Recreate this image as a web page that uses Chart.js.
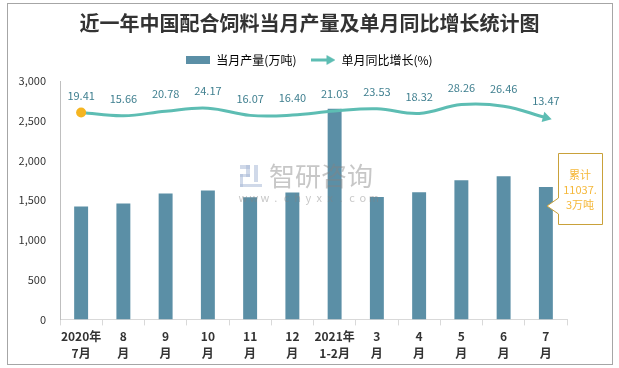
<!doctype html>
<html lang="zh">
<head>
<meta charset="UTF-8">
<title>近一年中国配合饲料当月产量及单月同比增长统计图</title>
<style>
  html, body { margin: 0; padding: 0; background: #fff; }
  #wrap { width: 619px; height: 368px; }
</style>
</head>
<body>
<div id="wrap"><canvas id="chart" width="619" height="368"></canvas></div>
<script src="https://cdn.jsdelivr.net/npm/chart.js@4/dist/chart.umd.min.js"></script>
<script>
// data
const months = [
  ['2020年', '7月'], ['8', '月'], ['9', '月'], ['10', '月'], ['11', '月'], ['12', '月'],
  ['2021年', '1-2月'], ['3', '月'], ['4', '月'], ['5', '月'], ['6', '月'], ['7', '月']
];
const output = [1420, 1458, 1585, 1622, 1538, 1598, 2650, 1540, 1600, 1752, 1800, 1665];
const growth = [19.41, 15.66, 20.78, 24.17, 16.07, 16.40, 21.03, 23.53, 18.32, 28.26, 26.46, 13.47];
const totalNote = ['累计', '11037.', '3万吨'];

const barColor = '#5b8fa6';
const lineColor = '#5dbdb3';
const font = '"Noto Sans CJK SC", "Microsoft YaHei", sans-serif';

function legendRect() {
  const c = document.createElement('canvas');
  c.width = 24; c.height = 8;
  const g = c.getContext('2d');
  g.fillStyle = barColor;
  g.fillRect(0, 0, 24, 8);
  return c;
}
function legendArrow() {
  const c = document.createElement('canvas');
  c.width = 24; c.height = 10;
  const g = c.getContext('2d');
  g.strokeStyle = lineColor; g.lineWidth = 3;
  g.beginPath(); g.moveTo(0, 5); g.lineTo(17, 5); g.stroke();
  g.fillStyle = lineColor;
  g.beginPath(); g.moveTo(24, 5); g.lineTo(15, 0); g.lineTo(15, 10); g.closePath(); g.fill();
  return c;
}

const decor = {
  id: 'decor',
  beforeDraw(chart) {
    const ctx = chart.ctx;
    ctx.save();
    ctx.fillStyle = '#fff';
    ctx.fillRect(0, 0, chart.width, chart.height);
    ctx.strokeStyle = '#a6a6a6';
    ctx.lineWidth = 1;
    ctx.strokeRect(7.5, 3.5, 605, 361);
    ctx.restore();
  },
  afterDatasetsDraw(chart) {
    const ctx = chart.ctx;
    const meta = chart.getDatasetMeta(1);
    ctx.save();
    // watermark
    ctx.fillStyle = 'rgba(170,185,215,0.55)';
    ctx.fillRect(240, 165, 10, 4);
    ctx.fillRect(246, 165, 4, 12);
    ctx.fillRect(240, 174, 10, 3);
    ctx.fillRect(240, 174, 3, 13);
    ctx.fillRect(240, 184, 22, 3);
    ctx.fillRect(254, 165, 4, 17);
    ctx.fillStyle = 'rgba(130,130,130,0.45)';
    ctx.font = '26px ' + font;
    ctx.textBaseline = 'middle';
    ctx.textAlign = 'left';
    ctx.fillText('智研咨询', 269, 176);
    ctx.font = '11px ' + font;
    ctx.textAlign = 'center';
    'www.chyxx.com'.split('').forEach((ch, i) => ctx.fillText(ch, 243 + i * 10.9, 198));

    ctx.fillStyle = '#3f7f8f';
    ctx.font = '11px ' + font;
    ctx.textAlign = 'center';
    ctx.textBaseline = 'middle';
    meta.data.forEach((pt, i) => {
      ctx.fillText(growth[i].toFixed(2), pt.x, pt.y - 17);
    });
    // callout with the cumulative total
    const x0 = 558.5, y0 = 153.5, x1 = 602.5, y1 = 224.5;
    ctx.strokeStyle = '#c9a13a';
    ctx.lineWidth = 1;
    ctx.beginPath();
    ctx.moveTo(x0, y0); ctx.lineTo(x1, y0); ctx.lineTo(x1, y1); ctx.lineTo(x0, y1);
    ctx.lineTo(x0, 214); ctx.lineTo(547, 206); ctx.lineTo(x0, 198); ctx.closePath();
    ctx.fillStyle = '#fff';
    ctx.fill();
    ctx.stroke();
    ctx.fillStyle = '#f5b83a';
    ctx.font = '11px ' + font;
    totalNote.forEach((t, i) => ctx.fillText(t, 580, 175 + i * 15));
    ctx.restore();
  }
};

new Chart(document.getElementById('chart'), {
  data: {
    labels: months,
    datasets: [
      {
        type: 'bar',
        label: '当月产量(万吨)',
        data: output,
        backgroundColor: barColor,
        barPercentage: 0.33,
        categoryPercentage: 1,
        xAxisID: 'x',
        yAxisID: 'y',
        order: 2
      },
      {
        type: 'line',
        label: '单月同比增长(%)',
        data: growth,
        borderColor: lineColor,
        borderWidth: 3,
        tension: 0.4,
        pointStyle: growth.map((v, i) => i === growth.length - 1 ? 'triangle' : 'circle'),
        pointRadius: growth.map((v, i) => i === 0 ? 5 : (i === growth.length - 1 ? 6 : 0)),
        pointRotation: growth.map((v, i) => i === growth.length - 1 ? 105 : 0),
        pointBackgroundColor: growth.map((v, i) => i === 0 ? '#f5b521' : lineColor),
        pointBorderColor: growth.map((v, i) => i === 0 ? '#f5b521' : lineColor),
        pointBorderWidth: 0,
        xAxisID: 'x',
        yAxisID: 'y1',
        order: 1
      }
    ]
  },
  options: {
    responsive: false,
    animation: false,
    layout: { padding: { left: 0, right: 0, top: 0, bottom: 3 } },
    plugins: {
      tooltip: { enabled: false },
      title: {
        display: true,
        text: '近一年中国配合饲料当月产量及单月同比增长统计图',
        color: '#333',
        font: { family: font, size: 20, weight: 'bold' },
        padding: { top: 11, bottom: 4 }
      },
      legend: {
        display: true,
        labels: {
          color: '#595959',
          font: { family: font, size: 12 },
          usePointStyle: true,
          pointStyleWidth: 24,
          boxHeight: 10,
          padding: 15,
          generateLabels: () => [
            { text: '当月产量(万吨)', pointStyle: legendRect(), fillStyle: barColor, strokeStyle: barColor, lineWidth: 0, datasetIndex: 0 },
            { text: '单月同比增长(%)', pointStyle: legendArrow(), fillStyle: lineColor, strokeStyle: lineColor, lineWidth: 0, datasetIndex: 1 }
          ]
        }
      }
    },
    scales: {
      x: {
        grid: { display: true, offset: true, drawOnChartArea: false, drawTicks: true, tickLength: 6, color: '#d9d9d9' },
        border: { color: '#d9d9d9' },
        ticks: {
          color: '#333',
          font: { family: font, size: 12, weight: 'bold', lineHeight: 1.4 },
          maxRotation: 0,
          autoSkip: false,
          padding: 3
        }
      },
      xTop: {
        position: 'top',
        type: 'category',
        afterFit(scale) { scale.height = 5; },
        grid: { display: false },
        border: { display: false },
        ticks: { display: false }
      },
      y: {
        min: 0, max: 3000,
        afterFit(scale) { scale.width = 60; },
        grid: { display: false },
        border: { display: true, color: '#bfbfbf' },
        ticks: { stepSize: 500, color: '#333', font: { family: font, size: 11 }, padding: 6 }
      },
      y1: {
        position: 'right',
        min: -215, max: 55,
        afterFit(scale) { scale.width = 52; },
        grid: { display: false },
        border: { display: false },
        ticks: { display: false }
      }
    }
  },
  plugins: [decor]
});
</script>
</body>
</html>
